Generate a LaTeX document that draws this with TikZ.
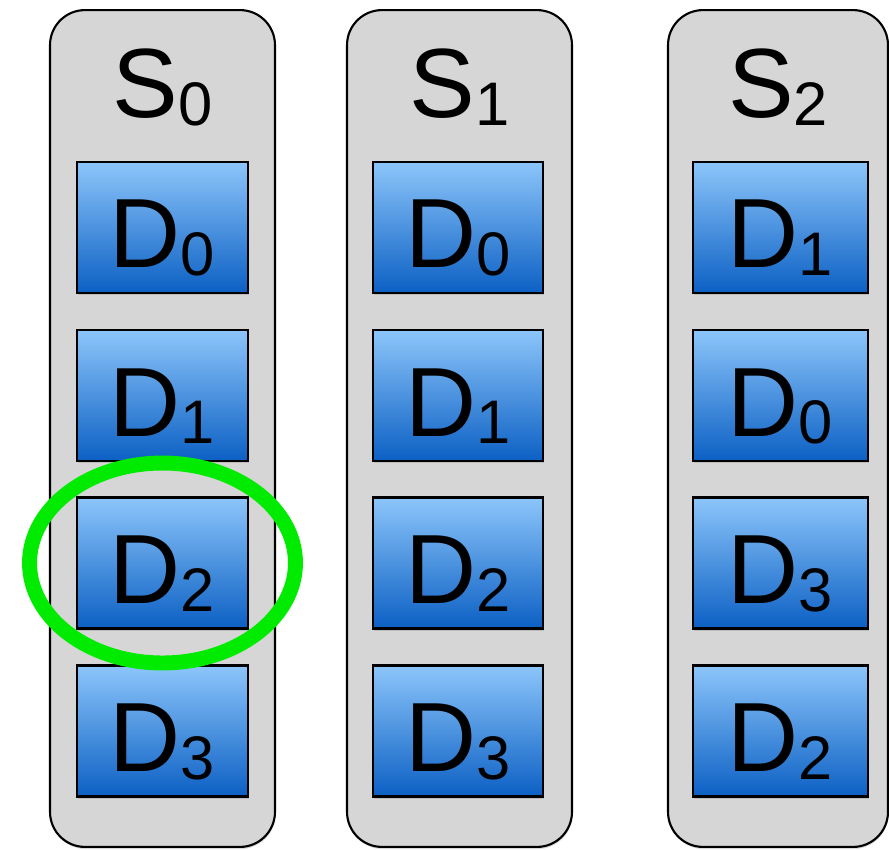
\documentclass[tikz,border=0pt]{standalone}
\usepackage{fontspec}
\setmainfont{Liberation Sans}
\usetikzlibrary{shapes.geometric,shadows}
\definecolor{colgray}{RGB}{214,214,214}
\definecolor{disktop}{RGB}{140,197,250}
\definecolor{diskbot}{RGB}{12,96,196}
\definecolor{ringgreen}{RGB}{0,235,0}
\newcommand{\sublabel}[2]{#1\raisebox{-0.15cm}{\fontsize{35}{35}\selectfont #2}}
\tikzset{
  server/.style={
    rectangle, rounded corners=0.7cm, draw=black, line width=1.2pt, fill=colgray,
    inner sep=0pt, minimum width=4.5cm, minimum height=16.74cm,
    drop shadow={shadow xshift=0.3pt, shadow yshift=-1.2pt, opacity=0.3}
  },
  server name/.style={
    anchor=base, inner sep=0pt, font=\fontsize{56}{60}\selectfont
  },
  disk/.style={
    rectangle, draw=black, line width=1.3pt, top color=disktop, bottom color=diskbot,
    inner sep=0pt, minimum width=3.42cm, minimum height=2.62cm,
    text height=1.62cm, text depth=0pt, font=\fontsize{56}{60}\selectfont,
    drop shadow={shadow xshift=0.3pt, shadow yshift=-1.2pt, opacity=0.3}
  },
  highlight/.style={
    ellipse, draw=ringgreen, line width=8.5pt, inner sep=0pt,
    minimum width=5.32cm, minimum height=4cm
  }
}

\begin{document}
\begin{tikzpicture}[x=0.02cm, y=-0.02cm]
  \useasboundingbox (0,0) rectangle (889,849);

% ------------------------------------------------
% server S0
% ------------------------------------------------
\begin{scope}[shift={(162.5,0)}]
  \node[server]      (s0)  at (0,428.5) {};
  \node[server name] (s0n) at (0,117.5) {\sublabel{S}{0}};
  \node[disk] (s0d0) at (0,227.5) {\sublabel{D}{0}};
  \node[disk] (s0d1) at (0,395.5) {\sublabel{D}{1}};
  \node[disk] (s0d2) at (0,563)   {\sublabel{D}{2}};
  \node[disk] (s0d3) at (0,731)   {\sublabel{D}{3}};
\end{scope}

% ------------------------------------------------
% server S1
% ------------------------------------------------
\begin{scope}[shift={(459.5,0)}]
  \node[server]      (s1)  at (0,428.5) {};
  \node[server name] (s1n) at (0,117.5) {\sublabel{S}{1}};
  \node[disk, minimum width=3.4cm] (s1d0) at (-1.5,227.5) {\sublabel{D}{0}};
  \node[disk, minimum width=3.4cm] (s1d1) at (-1.5,395.5) {\sublabel{D}{1}};
  \node[disk, minimum width=3.4cm] (s1d2) at (-1.5,563)   {\sublabel{D}{2}};
  \node[disk, minimum width=3.4cm] (s1d3) at (-1.5,731)   {\sublabel{D}{3}};
\end{scope}

% ------------------------------------------------
% server S2
% ------------------------------------------------
\begin{scope}[shift={(778,0)}]
  \node[server, minimum width=4.4cm] (s2) at (0,428.5) {};
  \node[server name] (s2n) at (0,117.5) {\sublabel{S}{2}};
  \node[disk, minimum width=3.5cm] (s2d0) at (2.5,227.5) {\sublabel{D}{1}};
  \node[disk, minimum width=3.5cm] (s2d1) at (2.5,395.5) {\sublabel{D}{0}};
  \node[disk, minimum width=3.5cm] (s2d2) at (2.5,563)   {\sublabel{D}{3}};
  \node[disk, minimum width=3.5cm] (s2d3) at (2.5,731)   {\sublabel{D}{2}};
\end{scope}

  % green ring round D2 of S0
  \node[highlight] (ring) at (s0d2) {};
\end{tikzpicture}
\end{document}
